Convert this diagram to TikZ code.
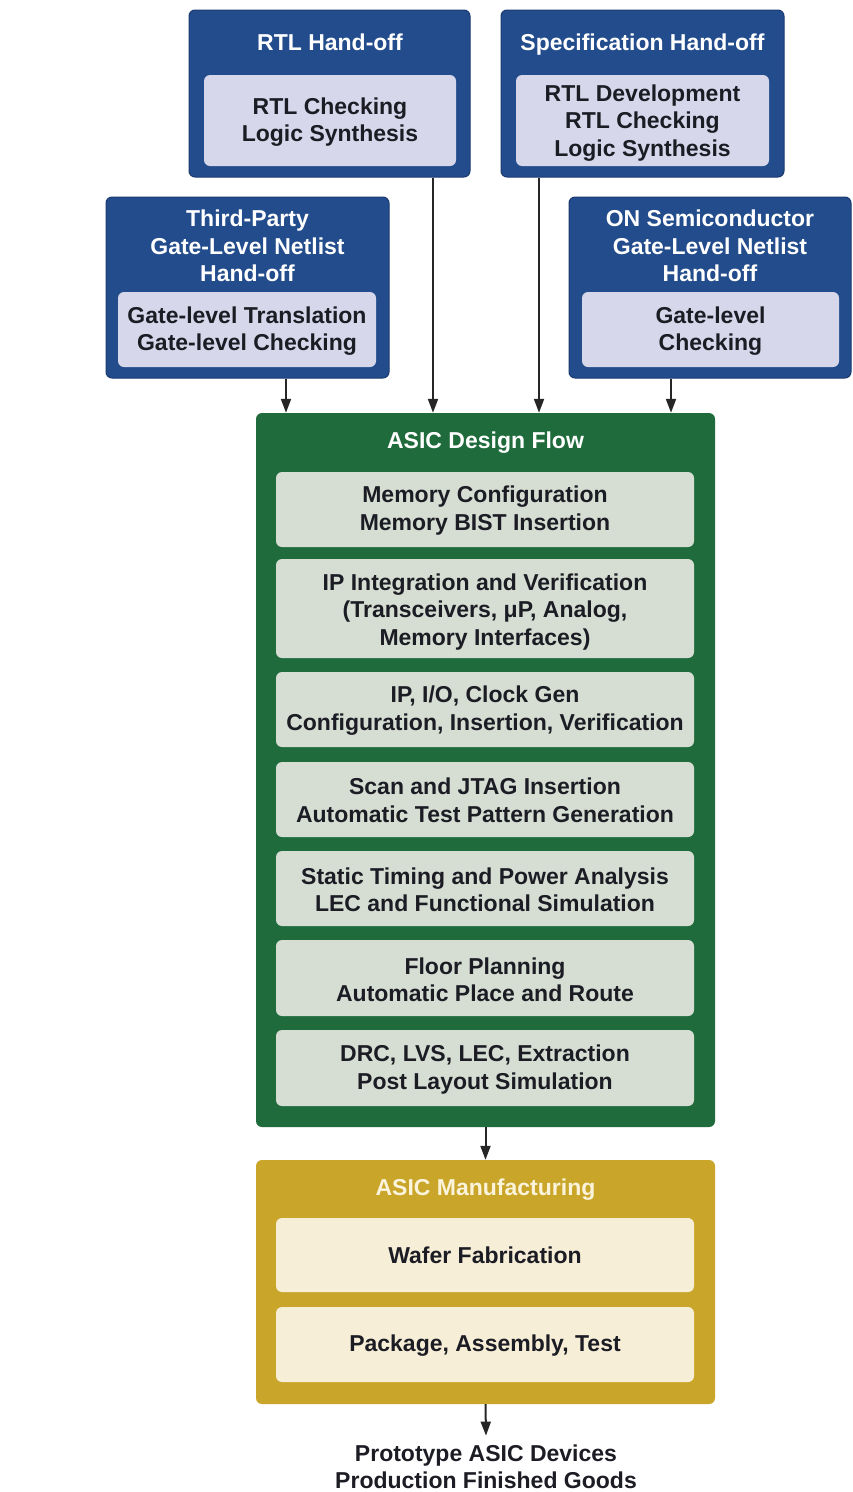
\documentclass[tikz,border=0pt]{standalone}
\usepackage{fontspec}
\setmainfont{Liberation Sans}
\usetikzlibrary{arrows.meta,calc}
\definecolor{bluebox}{HTML}{234C8C}
\definecolor{blueedge}{HTML}{1A3A70}
\definecolor{blueinner}{HTML}{D6D7EA}
\definecolor{greenbox}{HTML}{1F6B3C}
\definecolor{greeninner}{HTML}{D6DED3}
\definecolor{goldbox}{HTML}{C9A52A}
\definecolor{goldinner}{HTML}{F6EED6}
\definecolor{txtdark}{HTML}{1C1C24}
\definecolor{goldtitle}{HTML}{FBF3DA}
\tikzset{
  x=1pt,y=-1pt,
  every node/.style={font=\bfseries\fontsize{23}{27.5}\selectfont, align=center, inner sep=0pt},
  outerblue/.style={rectangle, rounded corners=6pt, fill=bluebox, draw=blueedge, line width=1pt},
  innerblue/.style={rectangle, rounded corners=6pt, fill=blueinner, text=txtdark},
  outergreen/.style={rectangle, rounded corners=6pt, fill=greenbox},
  innergreen/.style={rectangle, rounded corners=6pt, fill=greeninner, text=txtdark},
  outergold/.style={rectangle, rounded corners=6pt, fill=goldbox},
  innergold/.style={rectangle, rounded corners=6pt, fill=goldinner, text=txtdark},
  titletext/.style={text=white},
  oneline/.style={text height=16.5pt, text depth=0pt},
  arr/.style={draw=black!85, line width=2pt, -{Triangle[length=14pt,width=10pt]}},
}
\newcommand{\boxat}[6]{% name, style, x1, y1, x2, y2
  \node[#2, minimum width={(#5-#3)*1pt}, minimum height={(#6-#4)*1pt}] (#1) at ({(#3+#5)/2},{(#4+#6)/2}) {};}
\begin{document}
\begin{tikzpicture}
\useasboundingbox (0,0) rectangle (852,1492);
\fill[white] (0,0) rectangle (852,1492);

% RTL Hand-off
\boxat{rtl}{outerblue}{189}{10}{470}{177}
\boxat{rtlin}{innerblue}{204}{75}{456}{166}
\node[titletext, oneline] (rtlt) at (330,42) {RTL Hand-off};
\node[text=txtdark] (rtltx) at (330,122) {RTL Checking\\Logic Synthesis};

% Specification Hand-off
\boxat{spec}{outerblue}{501}{10}{784}{177}
\boxat{specin}{innerblue}{516}{75}{769}{166}
\node[titletext, oneline] (spect) at (642.5,42) {Specification Hand-off};
\node[text=txtdark] (spectx) at (642.5,123) {RTL Development\\RTL Checking\\Logic Synthesis};

% Third-Party
\boxat{tp}{outerblue}{106}{197}{389}{378}
\boxat{tpin}{innerblue}{118}{292}{376}{367}
\node[titletext] (tpt) at (247.5,246) {Third-Party\\Gate-Level Netlist\\Hand-off};
\node[text=txtdark] (tptx) at (247,331) {Gate-level Translation\\Gate-level Checking};

% ON Semiconductor
\boxat{on}{outerblue}{569}{197}{851}{378}
\boxat{onin}{innerblue}{582}{292}{839}{367}
\node[titletext] (ont) at (710,246) {ON Semiconductor\\Gate-Level Netlist\\Hand-off};
\node[text=txtdark] (ontx) at (710.5,331) {Gate-level\\Checking};

% ASIC Design Flow
\boxat{flow}{outergreen}{256}{413}{715}{1127}
\node[titletext, oneline] (flowt) at (485.5,440) {ASIC Design Flow};
\boxat{f1}{innergreen}{276}{472}{694}{547}
\node[text=txtdark] (f1t) at (485,510.5) {Memory Configuration\\Memory BIST Insertion};
\boxat{f2}{innergreen}{276}{559}{694}{658}
\node[text=txtdark] (f2t) at (485,612) {IP Integration and Verification\\(Transceivers, μP, Analog,\\Memory Interfaces)};
\boxat{f3}{innergreen}{276}{672}{694}{747}
\node[text=txtdark] (f3t) at (485,710.5) {IP, I/O, Clock Gen\\Configuration, Insertion, Verification};
\boxat{f4}{innergreen}{276}{762}{694}{837}
\node[text=txtdark] (f4t) at (485,800.5) {Scan and JTAG Insertion\\Automatic Test Pattern Generation};
\boxat{f5}{innergreen}{276}{851}{694}{926}
\node[text=txtdark] (f5t) at (485,890) {Static Timing and Power Analysis\\LEC and Functional Simulation};
\boxat{f6}{innergreen}{276}{940}{694}{1016}
\node[text=txtdark] (f6t) at (485,980) {Floor Planning\\Automatic Place and Route};
\boxat{f7}{innergreen}{276}{1030}{694}{1106}
\node[text=txtdark] (f7t) at (485,1069.5) {DRC, LVS, LEC, Extraction\\Post Layout Simulation};

% ASIC Manufacturing
\boxat{mfg}{outergold}{256}{1160}{715}{1404}
\node[text=goldtitle, oneline] (mfgt) at (485.5,1187) {ASIC Manufacturing};
\boxat{m1}{innergold}{276}{1218}{694}{1292}
\node[text=txtdark, oneline] (m1t) at (485,1255) {Wafer Fabrication};
\boxat{m2}{innergold}{276}{1307}{694}{1382}
\node[text=txtdark, oneline] (m2t) at (485,1343) {Package, Assembly, Test};

% Output
\node[text=txtdark] (out) at (486,1467) {Prototype ASIC Devices\\Production Finished Goods};

% Arrows
\draw[arr] ([xshift=38.5pt]tp.south) -- ([xshift=38.5pt]tp.south |- flow.north);
\draw[arr] ([xshift=103.5pt]rtl.south) -- ([xshift=103.5pt]rtl.south |- flow.north);
\draw[arr] ([xshift=-103.5pt]spec.south) -- ([xshift=-103.5pt]spec.south |- flow.north);
\draw[arr] ([xshift=-39pt]on.south) -- ([xshift=-39pt]on.south |- flow.north);
\draw[arr] (flow.south) -- (mfg.north);
\draw[arr] (mfg.south) -- ([yshift=9pt]out.north);
\end{tikzpicture}
\end{document}
